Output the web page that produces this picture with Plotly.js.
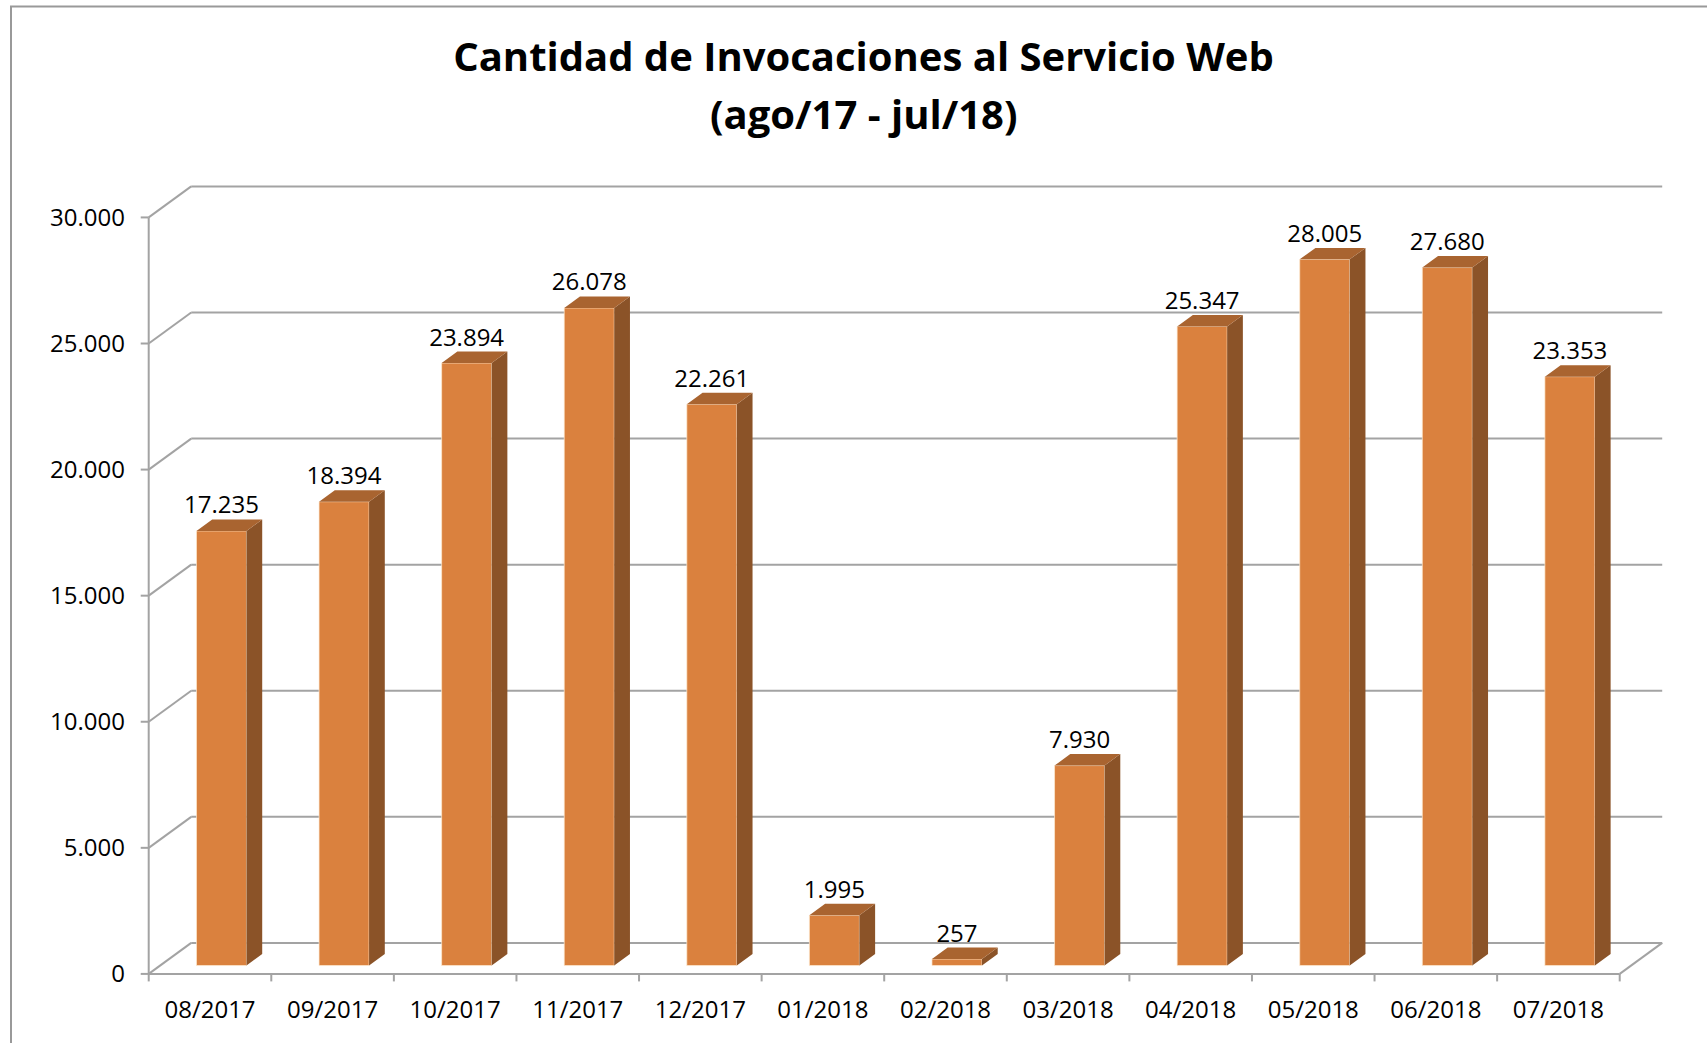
<!DOCTYPE html>
<html><head><meta charset="utf-8">
<script src="https://cdn.plot.ly/plotly-3.0.1.min.js"></script>
<style>html,body{margin:0;padding:0;background:#fff;overflow:hidden}#chart{width:1707px;height:1043px}</style>
</head><body><div id="chart"></div>
<script>
// ---- data ----
const categories = ['08/2017','09/2017','10/2017','11/2017','12/2017','01/2018','02/2018','03/2018','04/2018','05/2018','06/2018','07/2018'];
const values = [17235, 18394, 23894, 26078, 22261, 1995, 257, 7930, 25347, 28005, 27680, 23353];
const yTickValues = [0, 5000, 10000, 15000, 20000, 25000, 30000];
const titleLine1 = 'Cantidad de Invocaciones al Servicio Web';
const titleLine2 = '(ago/17 - jul/18)';

// ---- geometry / style ----
const W = 1707, H = 1043;
const M = {l: 134, r: 26, t: 167, b: 59};
const XR = [-0.62, 12.0], YR = [-400, 32000];
const plotW = W - M.l - M.r, plotH = H - M.t - M.b;
const pxX = plotW / (XR[1] - XR[0]), pxY = plotH / (YR[1] - YR[0]);
const DX = 42.5 / pxX, DY = 31 / pxY;        // depth of the 3D box in axis units
const FRONT = 0.27, BACK = 0.64, BW = 0.408; // bar depth position and width
const xL = -0.5, xRt = categories.length - 0.5;
const GRID = '#a3a3a3';
const C_FRONT = '#da813e', C_SIDE = '#8b5328', C_TOP = '#a96430';
const FONT = 'Open Sans, Noto Sans, sans-serif';
const LABEL_SIZE = 24, TITLE_SIZE = 40;

const idx = categories.map((c, i) => i);
const yMax = yTickValues[yTickValues.length - 1];

// shapes: back wall gridlines, left diagonals, axis lines and ticks
const shapes = [];
const ln = (x0, y0, x1, y1, extra) => Object.assign({type: 'line', xref: 'x', yref: 'y', x0, y0, x1, y1, layer: 'below', line: {color: GRID, width: 2}}, extra || {});
yTickValues.forEach(v => {
  shapes.push(ln(xL + DX, v + DY, xRt + DX, v + DY));
  shapes.push(ln(xL, v, xL + DX, v + DY));
  shapes.push(ln(xL - 8 / pxX, v, xL, v));
});
shapes.push(ln(xL, 0, xL, yMax));
shapes.push(ln(xL, 0, xRt, 0));
shapes.push(ln(xRt, 0, xRt + DX, DY));
for (let k = 0; k <= categories.length; k++) {
  shapes.push(ln(xL + k, 0, xL + k, -7.5 / pxY));
}
// chart border
shapes.push({type: 'rect', xref: 'paper', yref: 'paper',
  x0: (11 - M.l) / plotW, x1: (W + 20 - M.l) / plotW,
  y0: -(H - M.t + 20 - plotH) / plotH - 0.05, y1: 1 + (M.t - 6.5) / plotH,
  line: {color: '#999', width: 2}, layer: 'below'});

// 3D faces
const sideX = [], sideY = [], topX = [], topY = [];
const dBx = (BACK - FRONT) * DX, dBy = (BACK - FRONT) * DY;
values.forEach((v, i) => {
  const cx = i + FRONT * DX;
  const xl = cx - BW / 2, xr = cx + BW / 2;
  const y0 = FRONT * DY, y1 = v + FRONT * DY;
  sideX.push(xr, xr, xr + dBx, xr + dBx, xr, null);
  sideY.push(y0, y1, y1 + dBy, y0 + dBy, y0, null);
  topX.push(xl, xr, xr + dBx, xl + dBx, xl, null);
  topY.push(y1, y1, y1 + dBy, y1 + dBy, y1, null);
});

const traces = [
  {type: 'bar', x: idx.map(i => i + FRONT * DX), y: values, base: FRONT * DY, width: BW,
   marker: {color: C_FRONT, line: {color: 'rgba(255,235,210,0.7)', width: 1}}, hoverinfo: 'skip', showlegend: false},
  {type: 'scatter', mode: 'lines', x: sideX, y: sideY, fill: 'toself', fillcolor: C_SIDE,
   line: {color: 'rgba(0,0,0,0)', width: 0}, hoverinfo: 'skip', showlegend: false},
  {type: 'scatter', mode: 'lines', x: topX, y: topY, fill: 'toself', fillcolor: C_TOP,
   line: {color: 'rgba(0,0,0,0)', width: 0}, hoverinfo: 'skip', showlegend: false},
  {type: 'scatter', mode: 'text', x: idx.map(i => i + FRONT * DX), y: values.map(v => v + BACK * DY),
   customdata: values, texttemplate: '%{customdata:,}', textposition: 'top center',
   textfont: {family: FONT, size: LABEL_SIZE, color: '#000'}, cliponaxis: false, hoverinfo: 'skip', showlegend: false}
];

const layout = {
  width: W, height: H, margin: M,
  paper_bgcolor: '#fff', plot_bgcolor: 'rgba(0,0,0,0)',
  separators: ',.',
  showlegend: false,
  title: {text: '<b>' + titleLine1 + '</b>', xref: 'container', yref: 'container',
          x: 863.5 / W, xanchor: 'center', y: 1 - 57 / H, yanchor: 'middle',
          font: {family: FONT, size: TITLE_SIZE, color: '#000'}},
  annotations: [{text: '<b>' + titleLine2 + '</b>', xref: 'paper', yref: 'paper',
          x: (863.5 - M.l) / plotW, y: 1 + (M.t - 114) / plotH, xanchor: 'center', yanchor: 'middle',
          showarrow: false, font: {family: FONT, size: TITLE_SIZE, color: '#000'}}],
  xaxis: {range: XR, tickmode: 'array', tickvals: idx, ticktext: categories, ticks: '',
          showgrid: false, zeroline: false, showline: false, ticklabelstandoff: 9,
          tickfont: {family: FONT, size: LABEL_SIZE, color: '#000'}, fixedrange: true},
  yaxis: {range: YR, tickmode: 'array', tickvals: yTickValues, tickformat: ',', ticks: '',
          showgrid: false, zeroline: false, showline: false, ticklabelstandoff: 8,
          tickfont: {family: FONT, size: LABEL_SIZE, color: '#000'}, fixedrange: true},
  shapes: shapes
};

Plotly.newPlot('chart', traces, layout, {staticPlot: true, displayModeBar: false});
</script>
</body></html>
